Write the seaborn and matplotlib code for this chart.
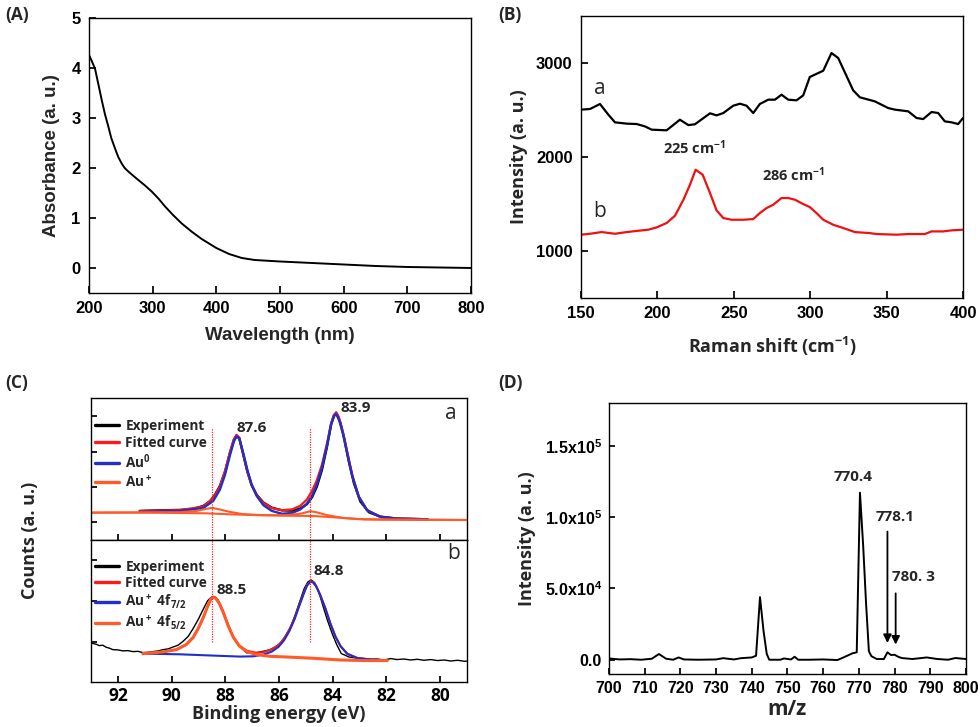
import matplotlib
matplotlib.use("Agg")
import matplotlib.pyplot as plt
import seaborn as sns
import numpy as np

# ---------------- data ----------------
# (A) UV-vis absorbance
uv_wl = [200, 204, 209.4, 215, 220, 225, 230.4, 235, 240.9, 246, 251.4, 256, 261.8, 270, 277.5,
         288, 298.5, 309, 319.5, 332, 345.7, 362, 377, 400, 420, 440, 460, 500, 550, 600,
         650, 700, 750, 800]
uv_abs = [4.26, 4.15, 3.99, 3.66, 3.36, 3.08, 2.83, 2.60, 2.39, 2.22, 2.09, 2.00, 1.93, 1.84, 1.76,
          1.65, 1.53, 1.39, 1.23, 1.06, 0.89, 0.72, 0.58, 0.40, 0.28, 0.20, 0.16, 0.13, 0.10, 0.07,
          0.04, 0.02, 0.01, 0.0]

# (B) Raman spectra
raman_a_x = [150, 155.9, 162.4, 167.9, 172.2, 179.9, 186.4, 191.8, 196.2, 206, 214.7, 220.2, 224.5,
             234.4, 238.7, 243.1, 249.6, 254, 258.3, 262.7, 267, 272.5, 276.9, 281.2, 285.6, 291,
             295.4, 299.7, 308.5, 313.9, 318.3, 328.1, 332.5, 342.3, 351, 355.4, 364.1, 369.6,
             373.9, 379.4, 383.7, 388.1, 392.5, 396.8, 400]
raman_a_y = [2504, 2511, 2564, 2450, 2369, 2355, 2351, 2326, 2291, 2284, 2397, 2340, 2348,
             2465, 2443, 2468, 2546, 2567, 2546, 2468, 2564, 2610, 2610, 2663, 2610, 2603,
             2656, 2851, 2918, 3106, 3053, 2709, 2635, 2592, 2521, 2504, 2486, 2415,
             2404, 2479, 2468, 2379, 2369, 2351, 2415]
raman_b_x = [150, 155.9, 163.5, 172.2, 179.9, 187.5, 194, 199.5, 206, 211.5, 217, 221.3, 225,
             229.6, 234.4, 238.7, 243.1, 248.6, 256.2, 262.7, 267, 271.4, 275.8, 281.2, 285.6,
             290, 295.4, 299.7, 304.1, 308.5, 315, 321.6, 329.2, 339, 343.4, 356.5, 364.1,
             371.7, 375, 379.4, 387, 392.5, 400]
raman_b_y = [1174, 1184, 1202, 1184, 1202, 1216, 1227, 1252, 1298, 1376, 1546, 1706, 1865,
             1812, 1617, 1433, 1351, 1333, 1333, 1340, 1404, 1457, 1493, 1564, 1564,
             1546, 1500, 1468, 1404, 1333, 1280, 1245, 1202, 1191, 1181, 1174, 1181,
             1181, 1181, 1209, 1209, 1220, 1227]

# (C) XPS, sample a
xps_a_exp_e = [91.19, 90.44, 89.69, 89.20, 88.82, 88.57, 88.39, 88.20, 88.01, 87.83, 87.68, 87.58,
               87.48, 87.33, 87.18, 87.02, 86.83, 86.58, 86.27, 85.89, 85.52, 85.21, 84.96, 84.77,
               84.59, 84.40, 84.21, 84.06, 83.94, 83.84, 83.71, 83.56, 83.40, 83.21, 82.97, 82.65,
               82.22, 81.60, 80.47]
xps_a_exp = [20.5, 20.9, 21.2, 21.9, 24.0, 27.3, 31.8, 38.1, 48.2, 61.2, 70.6, 73.6,
             71.8, 60.0, 48.2, 38.8, 31.8, 26.4, 22.8, 20.9, 20.7, 22.1, 25.2, 30.1,
             37.6, 49.4, 65.9, 81.2, 88.2, 88.2, 82.4, 70.6, 55.3, 40.0, 27.1, 19.5,
             16.5, 15.1, 14.6]
xps_a_fit_e = [91.19, 89.69, 88.82, 88.45, 88.20, 88.01, 87.83, 87.68, 87.58, 87.48, 87.33, 87.18,
               87.02, 86.83, 86.58, 86.27, 85.89, 85.52, 85.21, 84.96, 84.77, 84.59, 84.40, 84.21,
               84.06, 83.96, 83.87, 83.77, 83.62, 83.46, 83.27, 83.03, 82.72, 82.22, 81.60, 80.47]
xps_a_fit = [20.3, 21.0, 23.5, 29.5, 37.5, 48.5, 61.5, 71.0, 74.0, 72.0, 60.5, 48.5,
             38.5, 31.5, 26.0, 22.5, 21.0, 21.5, 24.0, 28.5, 34.5, 42.0, 53.0, 68.0,
             82.0, 88.0, 90.0, 86.5, 76.0, 62.0, 45.5, 30.5, 21.0, 16.3, 15.0, 14.6]
xps_a_au0 = [19.8, 20.5, 22.6, 27.5, 35.5, 46.0, 59.5, 69.5, 73.0, 71.5, 61.0, 49.5,
             39.0, 31.0, 24.5, 20.5, 18.5, 19.0, 21.5, 25.5, 31.0, 39.0, 51.0, 67.0,
             81.5, 87.0, 88.8, 85.0, 75.0, 61.0, 45.0, 30.5, 21.0, 16.2, 15.0, 14.6]
xps_a_bg_e = [93.0, 90.94, 88.70, 87.83, 86.95, 85.96, 84.71, 83.96, 83.09, 82.22, 78.95]
xps_a_bg = [19.3, 19.3, 18.8, 18.1, 17.6, 17.2, 16.9, 16.0, 14.8, 14.4, 14.1]
xps_a_aup_e = [93.0, 89.69, 89.07, 88.70, 88.47, 88.20, 87.83, 87.33, 86.58, 85.71, 85.21, 84.83,
               84.59, 84.21, 83.59, 82.84, 78.95]
xps_a_aup = [19.3, 19.6, 20.5, 22.0, 22.6, 21.5, 19.8, 18.2, 17.5, 17.5, 18.5, 20.3,
             19.5, 17.5, 15.5, 14.5, 14.1]

# (C) XPS, sample b
xps_b_exp_e = [93.01, 92.81, 92.69, 92.56, 92.44, 92.31, 92.19, 92.00, 91.81, 91.63, 91.44, 91.25,
               91.07, 90.88, 90.69, 90.50, 90.32, 90.13, 89.94, 89.76, 89.57, 89.38, 89.20, 89.01,
               88.82, 88.66, 88.51, 88.39, 88.26, 88.10, 87.93, 87.73, 87.55, 87.36, 87.20, 87.05,
               86.89, 86.70, 86.52, 86.33, 86.14, 85.96, 85.77, 85.58, 85.40, 85.21, 85.06, 84.92,
               84.80, 84.67, 84.52, 84.36, 84.19, 84.01, 83.84, 83.68, 83.53, 83.40, 83.24, 83.07,
               82.84, 82.59, 82.34, 82.09, 81.84, 81.60, 81.35, 81.10, 80.85, 80.60, 80.35, 80.10,
               79.85, 79.60, 79.35, 79.10, 78.95]
xps_b_exp = [27.5, 26.6, 25.6, 25.9, 24.5, 23.8, 22.8, 22.6, 21.9, 22.1, 21.4, 21.6,
             20.7, 20.9, 21.4, 21.9, 22.8, 23.3, 24.7, 25.9, 28.7, 32.2, 37.6, 44.0,
             51.3, 57.2, 59.8, 60.0, 57.6, 51.1, 42.4, 32.9, 27.1, 23.3, 20.5, 20.9,
             20.5, 21.2, 21.9, 22.8, 24.7, 27.1, 32.2, 38.4, 47.1, 57.6, 65.9, 70.6,
             71.8, 69.9, 63.5, 53.4, 43.1, 33.6, 25.9, 20.0, 18.8, 17.6, 17.2, 16.7,
             16.5, 16.0, 16.2, 15.5, 16.5, 15.8, 16.2, 15.5, 16.0, 15.3, 15.8, 15.1,
             15.5, 14.8, 15.3, 14.6, 14.8]
xps_b_52_e = [91.07, 90.32, 89.82, 89.45, 89.20, 89.01, 88.82, 88.66, 88.54, 88.45, 88.35, 88.22,
              88.07, 87.89, 87.70, 87.48, 87.20, 86.83, 86.33, 85.71, 84.71, 83.71, 82.84, 81.97]
xps_b_52 = [20.0, 21.2, 22.8, 26.4, 31.3, 37.6, 45.4, 53.2, 58.4, 59.8, 58.8, 55.3,
            48.7, 39.5, 31.5, 25.4, 21.4, 19.3, 18.1, 17.6, 16.7, 15.5, 15.1, 15.1]
xps_b_72_e = [91.07, 89.69, 88.45, 87.45, 86.95, 86.58, 86.27, 86.02, 85.81, 85.61, 85.42, 85.25,
              85.08, 84.96, 84.83, 84.73, 84.61, 84.46, 84.27, 84.09, 83.90, 83.71, 83.46, 83.09,
              82.59, 81.97]
xps_b_72 = [20.0, 19.5, 18.6, 17.9, 18.1, 19.3, 21.4, 24.7, 29.4, 36.0, 44.2, 53.4,
            62.1, 67.8, 70.6, 70.1, 67.1, 60.9, 51.5, 41.2, 32.0, 25.2, 19.8, 16.9,
            15.8, 15.1]
xps_b_fit_e = [91.07, 90.32, 89.82, 89.45, 89.20, 89.01, 88.82, 88.66, 88.54, 88.45, 88.35, 88.22,
               88.07, 87.89, 87.70, 87.48, 87.20, 86.83, 86.58, 86.27, 86.02, 85.81, 85.61, 85.42,
               85.25, 85.08, 84.96, 84.83, 84.73, 84.61, 84.46, 84.27, 84.09, 83.90, 83.71, 83.46,
               83.09, 82.59, 81.97]
xps_b_fit = [20.0, 21.2, 22.8, 26.4, 31.3, 37.6, 45.4, 53.2, 58.4, 59.8, 58.8, 55.3,
             48.7, 39.5, 31.5, 25.6, 22.0, 20.6, 21.0, 23.0, 26.0, 30.5, 37.0, 45.0,
             54.0, 62.5, 68.2, 71.0, 70.5, 67.5, 61.2, 51.8, 41.5, 32.2, 25.4, 20.0,
             17.0, 15.8, 15.1]
xps_peaks_a = [(87.0, 78.8, "87.6"), (83.15, 93.0, "83.9")]
xps_peaks_b = [(87.76, 65.0, "88.5"), (84.15, 78.0, "84.8")]
xps_marks = [88.5, 84.85]

# (D) mass spectrum
ms_mz = [700, 703, 706, 709, 712, 714, 716, 718, 719.5, 721, 725, 730, 732, 735, 737, 740,
         741.2, 742.3, 743.3, 744.2, 744.9, 746, 748, 749, 751, 752, 753, 756, 760, 764, 765.6,
         768.2, 769.4, 770.3, 771.2, 772.0, 772.8, 773.5, 775, 777, 778, 779, 780, 781, 782, 785,
         789, 792, 795, 797, 800]
ms_int = [900, 200, 400, 0, 700, 4000, 700, 0, 1600, 200, 0, 200, 1100, 200, 1100, 1600,
          2800, 43900, 20000, 4000, 0, 0, 0, 900, 200, 2100, 0, 0, 200, -200, 1500,
          4500, 5200, 117100, 80000, 40000, 6000, 2500, 500, 500, 5200, 3300, 3500, 2100, 1200, 500,
          1600, 500, 0, 1200, 500]
ms_labels = [(768.5, 128000, "770.4"), (780.2, 100000, "778.1"), (785.3, 57800, "780. 3")]
ms_arrows = [(778.0, 91800, 9800), (780.3, 48500, 8700)]

# ---------------- style ----------------
sns.set_theme(style="ticks")
plt.rcParams["font.family"] = ["Liberation Sans", "DejaVu Sans"]
plt.rcParams["font.weight"] = "bold"
plt.rcParams["axes.labelweight"] = "bold"
plt.rcParams["mathtext.default"] = "regular"
plt.rcParams["axes.linewidth"] = 1.0
plt.rcParams["axes.edgecolor"] = "black"
plt.rcParams["xtick.color"] = "black"
plt.rcParams["ytick.color"] = "black"

ARIAL = ["Liberation Sans", "DejaVu Sans"]
SEGOE = ["Open Sans", "DejaVu Sans"]

fig = plt.figure(figsize=(9.8, 7.27), dpi=100)


def line(ax, x, y, color, lw=1.4, label=None):
    sns.lineplot(x=x, y=y, ax=ax, color=color, lw=lw, sort=False, estimator=None, label=label)


# ---- (A) ----
axA = fig.add_axes([0.0908, 0.597, 0.3898, 0.3782])
line(axA, uv_wl, uv_abs, "black", 1.4)
axA.set_xlim(200, 800)
axA.set_ylim(-0.5, 5)
axA.set_xticks(range(200, 801, 100))
axA.set_yticks(range(0, 6))
axA.set_xlabel("Wavelength (nm)", fontsize=13.5, family=ARIAL, labelpad=8)
axA.set_ylabel("Absorbance (a. u.)", fontsize=13.5, family=ARIAL, labelpad=8)
axA.tick_params(direction="in", length=5, labelsize=12, pad=6)

# ---- (B) ----
axB = fig.add_axes([0.5929, 0.590, 0.3898, 0.388])
line(axB, raman_a_x, raman_a_y, "black", 1.6)
line(axB, raman_b_x, raman_b_y, "#f01010", 1.6)
axB.set_xlim(150, 400)
axB.set_ylim(500, 3500)
axB.set_xticks(range(150, 401, 50))
axB.set_yticks([1000, 2000, 3000])
axB.set_xlabel("Raman shift (cm$^{-1}$)", fontsize=13, family=SEGOE, labelpad=10)
axB.set_ylabel("Intensity (a. u.)", fontsize=13, family=SEGOE, labelpad=6)
axB.tick_params(direction="in", length=5, labelsize=12, pad=6)
axB.text(162.4, 2734, "a", fontsize=15, fontweight="normal", family=SEGOE, ha="center", va="center")
axB.text(162.4, 1422, "b", fontsize=15, fontweight="normal", family=SEGOE, ha="center", va="center")
axB.text(224.5, 2096, "225 cm$^{-1}$", fontsize=10.5, family=SEGOE, ha="center", va="center")
axB.text(289.3, 1812, "286 cm$^{-1}$", fontsize=10.5, family=SEGOE, ha="center", va="center")

# ---- (C) ----
axC1 = fig.add_axes([0.0929, 0.2572, 0.3836, 0.1953])
axC2 = fig.add_axes([0.0929, 0.0619, 0.3836, 0.1953], sharex=axC1)

BLK, RED, BLU, ORG = "black", "#ff1a1a", "#1f2fc8", "#ff5a2a"
line(axC1, xps_a_exp_e, xps_a_exp, BLK, 1.7, "Experiment")
line(axC1, xps_a_fit_e, xps_a_fit, RED, 1.7, "Fitted curve")
line(axC1, xps_a_fit_e, xps_a_au0, BLU, 1.7, "Au$^0$")
line(axC1, xps_a_aup_e, xps_a_aup, ORG, 1.5, "Au$^+$")
line(axC1, xps_a_bg_e, xps_a_bg, ORG, 1.5)

line(axC2, xps_b_exp_e, xps_b_exp, BLK, 1.0, "Experiment")
line(axC2, xps_b_fit_e, xps_b_fit, RED, 1.5, "Fitted curve")
line(axC2, xps_b_72_e, xps_b_72, BLU, 1.5, "Au$^+$ 4f$_{7/2}$")
line(axC2, xps_b_52_e, xps_b_52, ORG, 2.2, "Au$^+$ 4f$_{5/2}$")

for ax, anchor in ((axC1, 0.91), (axC2, 0.92)):
    ax.set_ylim(0, 100)
    leg = ax.legend(loc="upper left", bbox_to_anchor=(-0.01, anchor), frameon=False,
                    prop={"family": SEGOE, "weight": "bold", "size": 9.8},
                    handlelength=1.7, handletextpad=0.5, labelspacing=0.2, borderaxespad=0.2)
    for h in leg.get_lines():
        h.set_linewidth(2.4)
    ax.tick_params(direction="in", length=4, labelleft=False)
axC1.set_xlim(93, 79)
axC1.set_yticks([12.7, 37.3, 62, 87.3])
axC2.set_yticks([28.2, 57, 85.9])
axC1.tick_params(labelbottom=False)
axC2.set_xticks(range(80, 93, 2))
axC2.tick_params(axis="x", labelsize=12.5)
for lab in axC2.get_xticklabels():
    lab.set_family(SEGOE)
axC2.set_xlabel("Binding energy (eV)", fontsize=13, family=SEGOE, labelpad=0)
fig.text(0.031, 0.2572, "Counts (a. u.)", rotation=90, fontsize=13, family=SEGOE,
         fontweight="bold", ha="center", va="center")

for xm in xps_marks:
    axC1.axvline(xm, ymin=0, ymax=0.788, color="#ff2020", lw=0.9, ls=(0, (1, 1)))
    axC2.axvline(xm, ymin=0.282, ymax=1, color="#ff2020", lw=0.9, ls=(0, (1, 1)))

for ax, peaks in ((axC1, xps_peaks_a), (axC2, xps_peaks_b)):
    for xe, yv, txt in peaks:
        ax.text(xe, yv, txt, fontsize=11, family=SEGOE, ha="center", va="center")
axC1.text(79.6, 89, "a", fontsize=15, fontweight="normal", family=SEGOE, ha="center", va="center")
axC2.text(79.5, 90.6, "b", fontsize=15, fontweight="normal", family=SEGOE, ha="center", va="center")

# ---- (D) ----
axD = fig.add_axes([0.6214, 0.0729, 0.3643, 0.3728])
line(axD, ms_mz, ms_int, "black", 1.4)
axD.set_xlim(700, 800)
axD.set_ylim(-10000, 180000)
axD.set_xticks(range(700, 801, 10))
axD.set_yticks([0, 50000, 100000, 150000])
axD.set_yticklabels(["0.0", "5.0x10$^4$", "1.0x10$^5$", "1.5x10$^5$"])
axD.tick_params(direction="in", length=4, labelsize=11.5, pad=5)
axD.set_xlabel("m/z", fontsize=15, family=SEGOE, labelpad=2)
axD.set_ylabel("Intensity (a. u.)", fontsize=13, family=SEGOE, labelpad=6)
for mz, yv, txt in ms_labels:
    axD.text(mz, yv, txt, fontsize=11, family=SEGOE, ha="center", va="center")
for mz, y0, y1 in ms_arrows:
    axD.annotate("", xy=(mz, y1), xytext=(mz, y0),
                 arrowprops=dict(arrowstyle="-|>", color="black", lw=1.3, mutation_scale=12))

# panel letters
for x, y, s in [(0.005, 0.992, "(A)"), (0.508, 0.992, "(B)"), (0.005, 0.485, "(C)"), (0.508, 0.485, "(D)")]:
    fig.text(x, y, s, fontsize=12.5, family=SEGOE, fontweight="bold", ha="left", va="top")

fig.savefig("out.png", dpi=100)
